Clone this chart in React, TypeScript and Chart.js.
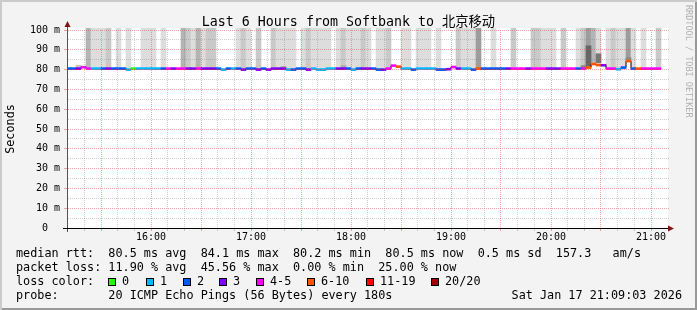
import React, { useEffect, useRef } from 'react';
import { Chart, registerables } from 'chart.js';

Chart.register(...registerables);

const TITLE = 'Last 6 Hours from Softbank to 北京移动';
const Y_TITLE = 'Seconds';
const WATERMARK = 'RRDTOOL / TOBI OETIKER';

// time axis: minutes after 15:00
const X_MIN = 9.6;
const X_MAX = 369.6;
const FIRST_STEP_START = 9;
const STEP_MINUTES = 3;
const HOUR_TICKS = [60, 120, 180, 240, 300, 360];
const HOUR_LABELS = ['16:00', '17:00', '18:00', '19:00', '20:00', '21:00'];
const GRID_MINUTES = [10, 20, 30, 40, 50, 60, 70, 80, 90, 100, 110, 120, 130, 140, 150, 160, 170, 180,
  190, 200, 210, 220, 230, 240, 250, 260, 270, 280, 290, 300, 310, 320, 330, 340, 350, 360];
const MAJOR_GRID_MINUTES = [30, 60, 90, 120, 150, 180, 210, 240, 270, 300, 330, 360];
const Y_GRID = [5, 10, 15, 20, 25, 30, 35, 40, 45, 50, 55, 60, 65, 70, 75, 80, 85, 90, 95, 100];
const Y_MAJOR = [10, 20, 30, 40, 50, 60, 70, 80, 90, 100];

// median rtt (ms) per 3-minute step
const MEDIAN_MS = [
  80.5, 80.5, 80.5, 81.2, 80.5, 80.5, 80.5, 80.5, 80.5, 80.5,
  80.5, 80.5, 80.0, 80.5, 80.5, 80.5, 80.5, 80.5, 80.5, 80.5,
  80.5, 80.5, 80.5, 80.5, 80.5, 80.5, 80.5, 80.5, 80.5, 80.5,
  80.5, 80.0, 80.5, 80.5, 80.5, 80.0, 80.5, 80.5, 80.0, 80.5,
  80.0, 80.5, 80.5, 80.5, 80.0, 80.0, 80.5, 80.5, 80.0, 80.5,
  80.0, 80.0, 80.5, 80.5, 80.5, 80.5, 80.5, 80.0, 80.5, 80.5,
  80.5, 80.5, 80.0, 80.0, 80.5, 82.0, 81.5, 80.5, 80.5, 80.0,
  80.5, 80.5, 80.5, 80.5, 80.0, 80.0, 80.2, 81.3, 80.5, 80.5,
  80.5, 80.0, 80.5, 80.5, 80.5, 80.5, 80.5, 80.5, 80.5, 80.5,
  80.5, 80.5, 80.5, 80.5, 80.5, 80.5, 80.5, 80.5, 80.5, 80.5,
  80.5, 80.5, 80.5, 80.5, 81.0, 82.8, 82.3, 82.2, 80.5, 80.5,
  80.2, 81.0, 84.3, 80.5, 80.5, 80.5, 80.5, 80.5, 80.5,
];

// loss colour class per step (index into LOSS_COLORS)
const LOSS_CLASS = [
  2, 2, 3, 4, 4, 1, 1, 2, 3, 2,
  2, 2, 1, 0, 1, 1, 1, 1, 1, 2,
  4, 3, 4, 4, 3, 3, 4, 3, 3, 3,
  2, 1, 2, 1, 2, 3, 2, 2, 3, 2,
  3, 3, 3, 3, 1, 2, 2, 2, 3, 1,
  1, 1, 1, 1, 3, 3, 2, 1, 2, 3,
  3, 2, 2, 3, 4, 4, 5, 1, 1, 2,
  1, 1, 1, 1, 2, 2, 3, 4, 3, 1,
  1, 2, 5, 2, 2, 2, 2, 2, 3, 4,
  4, 4, 3, 4, 4, 4, 3, 3, 3, 4,
  4, 4, 2, 4, 5, 5, 5, 3, 4, 4,
  1, 2, 5, 2, 5, 4, 4, 4, 4,
];

// smoke shade per step (0 = none, 1..4 = light..dark)
const SMOKE_SHADE = [
  0, 0, 0, 0, 3, 1, 1, 1, 2, 0,
  1, 0, 1, 0, 0, 1, 1, 1, 0, 1,
  0, 0, 0, 3, 2, 1, 3, 1, 2, 2,
  0, 0, 0, 0, 1, 2, 1, 0, 2, 0,
  0, 2, 1, 1, 1, 1, 0, 1, 2, 1,
  1, 1, 1, 0, 1, 2, 1, 1, 1, 2,
  1, 0, 1, 1, 2, 0, 0, 1, 1, 0,
  1, 1, 1, 0, 1, 0, 0, 0, 2, 1,
  1, 1, 4, 0, 0, 1, 0, 0, 0, 2,
  0, 0, 0, 2, 2, 1, 1, 1, 0, 2,
  0, 0, 1, 2, 4, 3, 1, 0, 1, 2,
  1, 1, 4, 1, 0, 1, 0, 0, 2,
];
const SMOKE_TOP = 101;

// denser smoke bands: step index, low, high, shade colour
const DENSE_STEP = [2, 43, 55, 103, 104, 106, 112];
const DENSE_LOW = [81.0, 81.0, 81.0, 81.0, 81.7, 83.5, 84.8];
const DENSE_HIGH = [82.2, 81.6, 82.0, 82.0, 92.0, 88.0, 86.0];
const DENSE_COLOR = ['#c4c4c4', '#b0b0b0', '#a8a8a8', '#888888', '#666666', '#777777', '#8a8a8a'];

const SMOKE_COLORS = ['rgba(0,0,0,0)', '#dddddd', '#c9c9c9', '#b4b4b4', '#9d9d9d'];
const LOSS_LABELS = ['0', '1', '2', '3', '4-5', '6-10', '11-19', '20/20'];
const LOSS_COLORS = ['#26ff00', '#00b8ff', '#0059ff', '#7e00ff', '#ff00ff', '#ff5500', '#ff0000', '#a10000'];

const STAT_ROWS = [
  'median rtt:  80.5 ms avg  84.1 ms max  80.2 ms min  80.5 ms now  0.5 ms sd  157.3   am/s',
  'packet loss: 11.90 % avg  45.56 % max  0.00 % min  25.00 % now',
];
const PROBE_ROW = 'probe:       20 ICMP Echo Pings (56 Bytes) every 180s';
const DATE_TEXT = 'Sat Jan 17 21:09:03 2026';

// layout only
const LEGEND_BOX_X = [108, 146, 183, 219, 256, 307, 366, 431];

const MONO = '"DejaVu Sans Mono", "Noto Sans CJK SC", monospace';
const MAJOR = 'rgba(235,60,60,0.45)';
const MINOR = 'rgba(120,120,120,0.35)';

const framePlugin = {
  id: 'rrdFrame',
  beforeDraw(chart: any) {
    const { ctx, chartArea: a } = chart;
    ctx.save();
    ctx.fillStyle = '#ffffff';
    ctx.fillRect(a.left, a.top - 2, a.right - a.left + 1, a.bottom - a.top + 2);
    ctx.restore();
  },
  afterDatasetsDraw(chart: any) {
    const { ctx, chartArea: a, scales } = chart;
    const xs = scales.x;
    const ys = scales.y;
    const L = Math.round(a.left);
    const R = Math.round(a.right);
    const T = Math.round(a.top);
    const B = Math.round(a.bottom);
    ctx.save();
    // horizontal dotted grid
    Y_GRID.forEach((v) => {
      const row = Math.round(ys.getPixelForValue(v) - 0.5);
      const major = Y_MAJOR.indexOf(v) >= 0;
      ctx.fillStyle = major ? MAJOR : MINOR;
      for (let px = L + 1; px < R + 2; px += 2) ctx.fillRect(px, row, 1, 1);
      if (major) ctx.fillRect(L - 3, row, 3, 1);
    });
    // vertical dotted grid
    GRID_MINUTES.forEach((m) => {
      const col = Math.round(xs.getPixelForValue(m) - 0.5);
      if (col <= L) return;
      const major = MAJOR_GRID_MINUTES.indexOf(m) >= 0;
      ctx.fillStyle = major ? MAJOR : MINOR;
      for (let py = T; py < B; py += 2) ctx.fillRect(col, py, 1, 1);
      ctx.fillRect(col, B + 1, 1, 2);
    });
    ctx.restore();
  },
  afterDraw(chart: any) {
    const { ctx, chartArea: a } = chart;
    ctx.save();
    ctx.lineWidth = 1;
    ctx.strokeStyle = '#555555';
    ctx.beginPath();
    ctx.moveTo(Math.round(a.left) + 0.5, a.top - 4);
    ctx.lineTo(Math.round(a.left) + 0.5, a.bottom + 4);
    ctx.stroke();
    ctx.strokeStyle = '#000000';
    ctx.beginPath();
    ctx.moveTo(a.left - 4, Math.round(a.bottom) + 0.5);
    ctx.lineTo(a.right + 5, Math.round(a.bottom) + 0.5);
    ctx.stroke();
    ctx.fillStyle = '#7f1414';
    const ax = Math.round(a.left) + 0.5;
    ctx.beginPath();
    ctx.moveTo(ax, a.top - 9);
    ctx.lineTo(ax - 3, a.top - 3);
    ctx.lineTo(ax + 3, a.top - 3);
    ctx.closePath();
    ctx.fill();
    const ay = Math.round(a.bottom) + 0.5;
    ctx.beginPath();
    ctx.moveTo(a.right + 7, ay);
    ctx.lineTo(a.right + 1, ay - 3);
    ctx.lineTo(a.right + 1, ay + 3);
    ctx.closePath();
    ctx.fill();
    ctx.restore();
  },
};

export default function App() {
  const ref = useRef<HTMLCanvasElement>(null);

  useEffect(() => {
    const canvas = ref.current;
    if (!canvas) return;
    const centers = MEDIAN_MS.map((_, i) => FIRST_STEP_START + STEP_MINUTES * i + STEP_MINUTES / 2);

    const smokeData: any[] = [];
    const smokeColors: string[] = [];
    MEDIAN_MS.forEach((v, i) => {
      if (SMOKE_SHADE[i] > 0) {
        smokeData.push({ x: centers[i], y: [v + 0.5, SMOKE_TOP] });
        smokeColors.push(SMOKE_COLORS[SMOKE_SHADE[i]]);
      }
    });
    const denseData = DENSE_STEP.map((s, k) => ({ x: centers[s], y: [DENSE_LOW[k], DENSE_HIGH[k]] }));
    const lineData = MEDIAN_MS.map((v, i) => ({ x: centers[i], y: v }));
    const lossData = MEDIAN_MS.map((v, i) => ({ x: centers[i], y: [v - 0.5, v + 0.5] }));
    const lossColors = LOSS_CLASS.map((c) => LOSS_COLORS[c]);

    const barCommon = {
      grouped: false,
      barPercentage: 1,
      categoryPercentage: 1,
      borderWidth: 0,
    };

    const chart = new Chart(canvas, {
      type: 'bar',
      data: {
        datasets: [
          {
            type: 'bar', label: 'smoke', data: smokeData, backgroundColor: smokeColors, order: 4,
            clip: { left: 0, top: 2, right: 0, bottom: 0 }, ...barCommon,
          } as any,
          {
            type: 'bar', label: 'dense', data: denseData, backgroundColor: DENSE_COLOR, order: 3, ...barCommon,
          } as any,
          {
            type: 'line', label: 'median', data: lineData, borderColor: '#000000', borderWidth: 1,
            stepped: 'middle', pointRadius: 0, order: 2, fill: false,
          } as any,
          {
            type: 'bar', label: 'loss', data: lossData, backgroundColor: lossColors, order: 1, ...barCommon,
          } as any,
        ],
      },
      options: {
        animation: false,
        responsive: false,
        events: [],
        layout: { padding: { left: 0, top: 30, right: 30, bottom: 62 } },
        plugins: {
          legend: { display: false },
          tooltip: { enabled: false },
          title: { display: false },
        },
        scales: {
          x: {
            type: 'linear',
            min: X_MIN,
            max: X_MAX,
            offset: false,
            afterBuildTicks: (s: any) => {
              s.ticks = GRID_MINUTES.map((v) => ({ value: v }));
            },
            afterFit: (s: any) => {
              s.height = 20;
            },
            ticks: {
              autoSkip: false,
              maxRotation: 0,
              minRotation: 0,
              padding: 0,
              color: '#000000',
              font: { family: MONO, size: 10 },
              callback: (v: any) => {
                const k = HOUR_TICKS.indexOf(Math.round(Number(v)));
                return k >= 0 ? HOUR_LABELS[k] : '';
              },
            },
            grid: {
              offset: false,
              lineWidth: 0,
              tickWidth: 0,
              drawTicks: true,
              tickLength: 3,
            },
            border: { display: false },
          },
          y: {
            type: 'linear',
            min: 0,
            max: 100,
            afterFit: (s: any) => {
              s.width = 67;
            },
            ticks: {
              stepSize: 5,
              padding: 7,
              color: '#000000',
              font: { family: MONO, size: 10 },
              callback: (v: any) => {
                const n = Math.round(Number(v));
                if (n % 10 !== 0) return '';
                return n === 0 ? '0  ' : `${n} m`;
              },
            },
            grid: {
              lineWidth: 0,
              tickWidth: 0,
              drawTicks: false,
            },
            border: { display: false },
            title: {
              display: true,
              text: Y_TITLE,
              color: '#000000',
              font: { family: MONO, size: 11.8 },
              padding: { top: 4, bottom: 0 },
            },
          },
        },
      } as any,
      plugins: [framePlugin],
    });
    return () => chart.destroy();
  }, []);

  const rowStyle: React.CSSProperties = {
    position: 'absolute',
    left: 16,
    height: 14,
    lineHeight: '14px',
    fontSize: 11.8,
    whiteSpace: 'pre',
    color: '#000',
  };

  return (
    <div
      style={{
        position: 'fixed',
        left: 0,
        top: 0,
        width: 697,
        height: 310,
        background: '#f3f3f3',
        boxShadow: 'inset 2px 2px 0 #cbcbcb, inset -2px -2px 0 #999999',
        overflow: 'hidden',
        fontFamily: MONO,
      }}
    >
      <canvas ref={ref} width={697} height={310} style={{ position: 'absolute', left: 0, top: 0, width: 697, height: 310 }} />
      <div
        style={{
          position: 'absolute', left: 0, top: 14, width: 697, textAlign: 'center',
          fontSize: 13.3, lineHeight: '16px', whiteSpace: 'pre', color: '#000',
        }}
      >
        {TITLE}
      </div>
      <div
        style={{
          position: 'absolute', left: 682, top: 5, width: 13, lineHeight: '13px', fontSize: 8.5,
          writingMode: 'vertical-rl', color: '#b0b0b0', whiteSpace: 'pre',
        }}
      >
        {WATERMARK}
      </div>
      {STAT_ROWS.map((t, i) => (
        <div key={i} style={{ ...rowStyle, top: 246 + 14 * i }}>{t}</div>
      ))}
      <div style={{ ...rowStyle, top: 274 }}>loss color:</div>
      {LOSS_LABELS.map((lab, i) => (
        <React.Fragment key={lab}>
          <div
            style={{
              position: 'absolute', left: LEGEND_BOX_X[i], top: 278, width: 8, height: 8,
              boxSizing: 'border-box', border: '1px solid #000', background: LOSS_COLORS[i],
            }}
          />
          <div style={{ ...rowStyle, left: LEGEND_BOX_X[i] + 14, top: 274 }}>{lab}</div>
        </React.Fragment>
      ))}
      <div style={{ ...rowStyle, top: 288 }}>{PROBE_ROW}</div>
      <div style={{ ...rowStyle, left: 'auto', right: 15, top: 288 }}>{DATE_TEXT}</div>
    </div>
  );
}
